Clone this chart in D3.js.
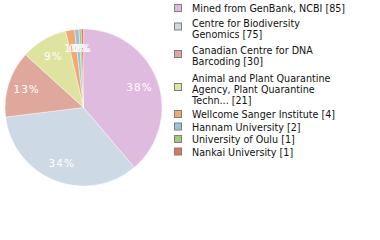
<!DOCTYPE html>
<html>
<head>
<meta charset="utf-8">
<script src="https://cdn.jsdelivr.net/npm/d3@7"></script>
<style>
body { margin: 0; background: #fff; }
text { font-family: "DejaVu Sans", sans-serif; }
</style>
</head>
<body>
<div id="container"></div>
<script>
let w = 380;
let h = 240;

// data
let names = ["Mined from GenBank, NCBI", "Centre for Biodiversity Genomics",
  "Canadian Centre for DNA Barcoding", "Animal and Plant Quarantine Agency, Plant Quarantine Techn...",
  "Wellcome Sanger Institute", "Hannam University", "University of Oulu", "Nankai University"];
let counts = [85, 75, 30, 21, 4, 2, 1, 1];
let legendLines = [
  ["Mined from GenBank, NCBI [85]"],
  ["Centre for Biodiversity", "Genomics [75]"],
  ["Canadian Centre for DNA", "Barcoding [30]"],
  ["Animal and Plant Quarantine", "Agency, Plant Quarantine", "Techn... [21]"],
  ["Wellcome Sanger Institute [4]"],
  ["Hannam University [2]"],
  ["University of Oulu [1]"],
  ["Nankai University [1]"]
];
let colors = ["#dfbbdf", "#cdd9e5", "#e0a89c", "#dee3a0", "#f0aa70", "#9fbfe0", "#9fc87c", "#de765e"];

let viz = d3.select("#container")
  .append("svg")
    .attr("width", w)
    .attr("height", h);

let total = d3.sum(counts);
let data = names.map(function(n, i){ return {name: n, value: counts[i], color: colors[i]}; });

let cx = 83.5, cy = 107.5, r = 78.5;

let pie = d3.pie().sort(null).value(function(d){ return d.value; });
let arc = d3.arc().innerRadius(0).outerRadius(r);
let labelArc = d3.arc().innerRadius(r * 0.76).outerRadius(r * 0.76);

let pieGroup = viz.append("g").attr("transform", "translate(" + cx + "," + cy + ")");

pieGroup.selectAll(".slice").data(pie(data)).enter()
  .append("path")
    .attr("class", "slice")
    .attr("d", arc)
    .attr("fill", function(d){ return d.data.color; })
    .attr("stroke", "#fff")
    .attr("stroke-width", 0.4);

pieGroup.selectAll(".plabel").data(pie(data)).enter()
  .append("text")
    .attr("class", "plabel")
    .attr("transform", function(d){ return "translate(" + labelArc.centroid(d) + ")"; })
    .attr("text-anchor", "middle")
    .attr("dy", "0.35em")
    .attr("fill", "#fff")
    .attr("font-size", 10.5)
    .attr("letter-spacing", 1)
    .text(function(d){ return Math.floor(d.data.value / total * 100) + "%"; });

// legend: entries spaced 12.5, multi-line entries get extra 2px padding each side
let ys = [];
let y = 9;
legendLines.forEach(function(lines, i){
  if (i > 0) {
    let prev = legendLines[i - 1];
    y = ys[i - 1][ys[i - 1].length - 1] + 12.5;
    if (prev.length > 1) y += 2;
    if (lines.length > 1) y += 2;
  }
  let row = [];
  lines.forEach(function(l, j){ row.push(y + j * 11); });
  ys.push(row);
});

let legend = viz.selectAll(".legend").data(data).enter()
  .append("g")
    .attr("class", "legend");

legend.append("rect")
  .attr("x", 174.5)
  .attr("y", function(d, i){
    let row = ys[i];
    return (row[0] + row[row.length - 1]) / 2 - 4.5 - (row.length > 1 ? 1.5 : 0);
  })
  .attr("width", 7)
  .attr("height", 7)
  .attr("fill", function(d){ return d.color; })
  .attr("stroke", "#808080")
  .attr("stroke-width", 1);

legend.each(function(d, i){
  let g = d3.select(this);
  legendLines[i].forEach(function(l, j){
    g.append("text")
      .attr("x", 192)
      .attr("y", ys[i][j])
      .attr("dy", "0.35em")
      .attr("font-size", 9.6)
      .attr("fill", "#111")
      .text(l);
  });
});
</script>
</body>
</html>
